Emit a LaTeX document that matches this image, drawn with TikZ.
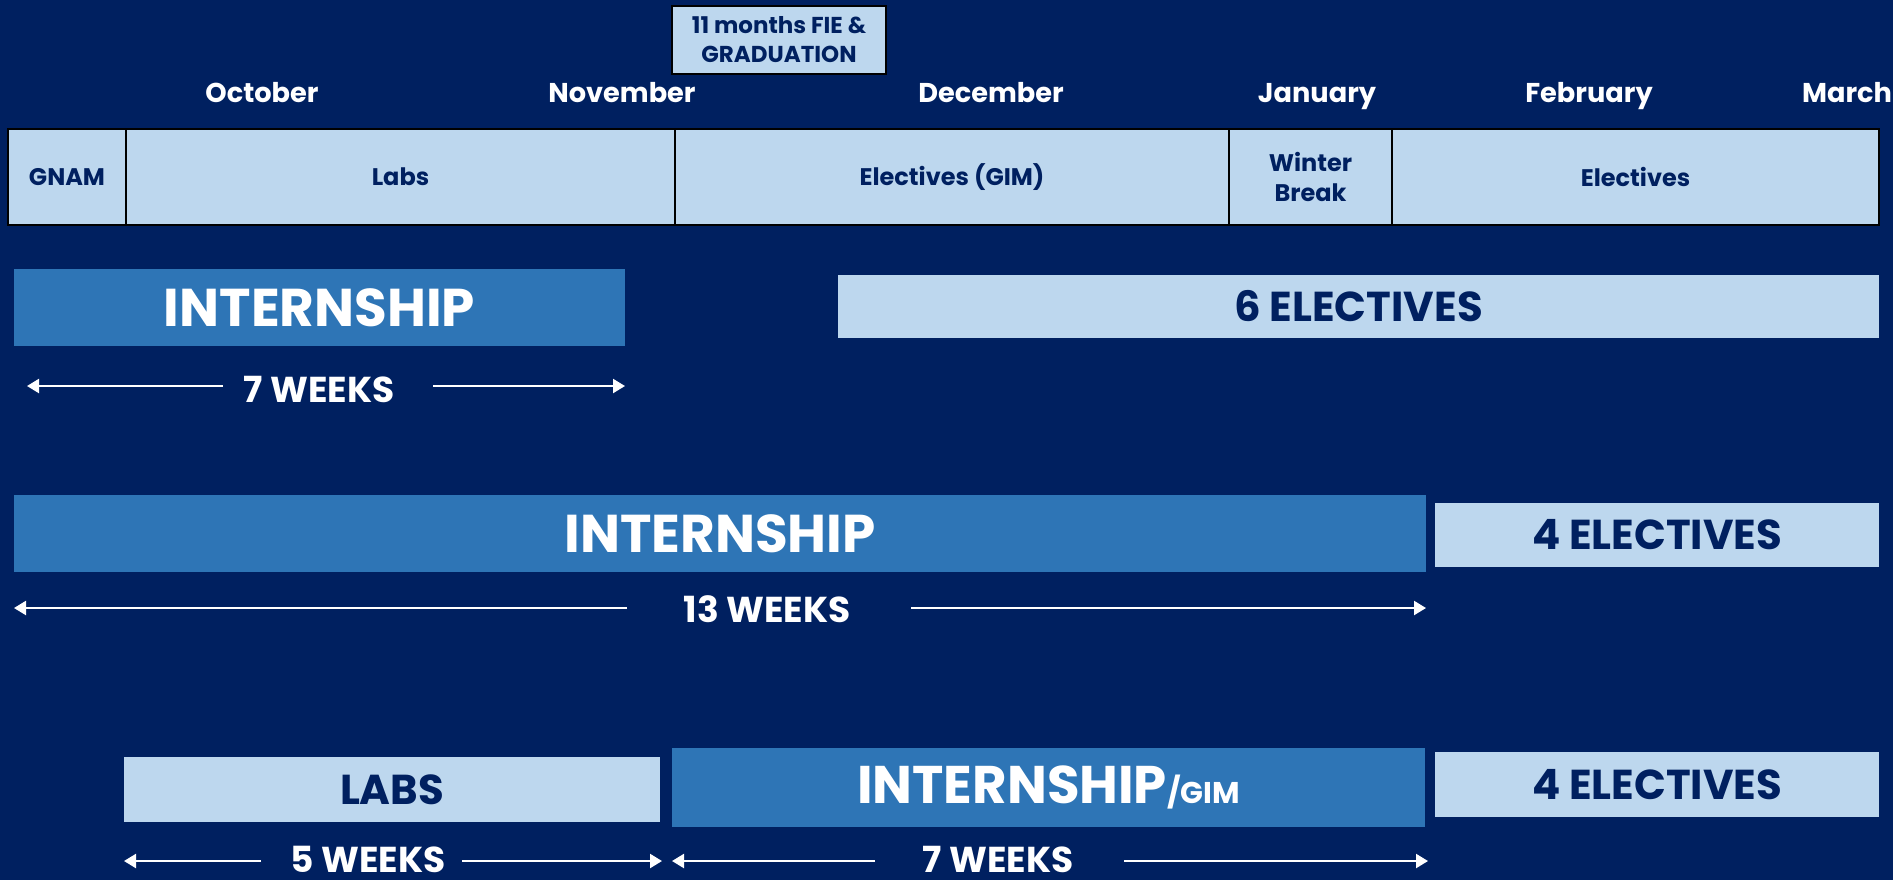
\documentclass[tikz,border=0pt]{standalone}
\usepackage{fontspec}
\setmainfont{Poppins}
\usetikzlibrary{arrows.meta,fit}
\definecolor{navy}{HTML}{002060}
\definecolor{light}{HTML}{BDD7EE}
\definecolor{mid}{HTML}{2E75B6}
\tikzset{
  cell/.style={fit={#1}, inner sep=0pt, fill=light, draw=black, line width=1.3pt},
  celltext/.style={text=navy, font=\bfseries\fontsize{12}{15}\selectfont, align=center, inner sep=0pt},
  lbox/.style={fit={#1}, inner sep=0pt, fill=light},
  dbox/.style={fit={#1}, inner sep=0pt, fill=mid},
  ltext/.style={text=navy, font=\bfseries\fontsize{20.9}{24}\selectfont, inner sep=0pt},
  dtext/.style={text=white, font=\bfseries\fontsize{26.6}{30}\selectfont, inner sep=0pt},
  month/.style={text=white, font=\bfseries\fontsize{13.6}{16}\selectfont, inner sep=0pt, anchor=base},
  weeks/.style={text=white, font=\bfseries\fontsize{18}{20}\selectfont, inner sep=0pt, anchor=base},
  span/.style={draw=white, line width=1.1pt, -{Triangle[length=6pt,width=7pt]}},
}
\begin{document}
\begin{tikzpicture}[x=0.5pt,y=-0.5pt]
\fill[navy] (0,0) rectangle (1893,880);
\useasboundingbox (0,0) rectangle (1893,880);

% graduation box
\node[cell={(672,6)(886,74)}] (grad) {};
\node[celltext, font=\bfseries\fontsize{11.5}{14.5}\selectfont] (gradt) at (grad.center) {11 months FIE \&\\GRADUATION};

% months
\node[month] (oct) at (262,102) {October};
\node[month] (nov) at (622,102) {November};
\node[month] (dec) at (991,102) {December};
\node[month] (jan) at (1317,102) {January};
\node[month] (feb) at (1589,102) {February};
\node[month] (mar) at (1847,102) {March};

% table
\node[cell={(8,129)(126,225)}] (gnam) {};
\node[cell={(126,129)(675,225)}] (labs) {};
\node[cell={(675,129)(1229,225)}] (elgim) {};
\node[cell={(1229,129)(1392,225)}] (winter) {};
\node[cell={(1392,129)(1879,225)}] (elect) {};
\node[celltext] (gnamt) at (gnam.center) {GNAM};
\node[celltext] (labst) at (labs.center) {Labs};
\node[celltext] (elgimt) at (elgim.center) {Electives (GIM)};
\node[celltext] (wintert) at (winter.center) {Winter\\Break};
\node[celltext] (electt) at (elect.center) {Electives};

% row 1
\node[dbox={(14,269)(625,346)}] (int1) {};
\node[dtext] (int1t) at (int1.center) {INTERNSHIP};
\node[lbox={(838,275)(1879,338)}] (six) {};
\node[ltext] (sixt) at (six.center) {6 ELECTIVES};
\node[weeks] (w1) at (319,402) {7 WEEKS};
\coordinate (w1a) at (223,386);
\coordinate (w1b) at (27,386);
\coordinate (w1c) at (433,386);
\coordinate (w1d) at (625,386);
\draw[span] (w1a) -- (w1b);
\draw[span] (w1c) -- (w1d);

% row 2
\node[dbox={(14,495)(1426,572)}] (int2) {};
\node[dtext] (int2t) at (int2.center) {INTERNSHIP};
\node[lbox={(1435,503)(1879,567)}] (four1) {};
\node[ltext] (four1t) at (four1.center) {4 ELECTIVES};
\node[weeks] (w2) at (767,622) {13 WEEKS};
\coordinate (w2a) at (627,608);
\coordinate (w2b) at (14,608);
\coordinate (w2c) at (911,608);
\coordinate (w2d) at (1426,608);
\draw[span] (w2a) -- (w2b);
\draw[span] (w2c) -- (w2d);

% row 3
\node[lbox={(124,757)(660,822)}] (labs3) {};
\node[ltext] (labs3t) at (labs3.center) {LABS};
\node[dbox={(672,748)(1425,827)}] (int3) {};
\node[dtext, font=\bfseries\fontsize{26.5}{30}\selectfont] (int3t) at (int3.center) {INTERNSHIP{\fontsize{15}{17}\selectfont/GIM}};
\node[lbox={(1435,752)(1879,817)}] (four2) {};
\node[ltext] (four2t) at (four2.center) {4 ELECTIVES};
\node[weeks] (w3) at (368,872) {5 WEEKS};
\node[weeks] (w4) at (998,872) {7 WEEKS};
\coordinate (w3a) at (261,861);
\coordinate (w3b) at (124,861);
\coordinate (w3c) at (462,861);
\coordinate (w3d) at (662,861);
\coordinate (w4a) at (875,861);
\coordinate (w4b) at (672,861);
\coordinate (w4c) at (1124,861);
\coordinate (w4d) at (1428,861);
\draw[span] (w3a) -- (w3b);
\draw[span] (w3c) -- (w3d);
\draw[span] (w4a) -- (w4b);
\draw[span] (w4c) -- (w4d);
\end{tikzpicture}
\end{document}
